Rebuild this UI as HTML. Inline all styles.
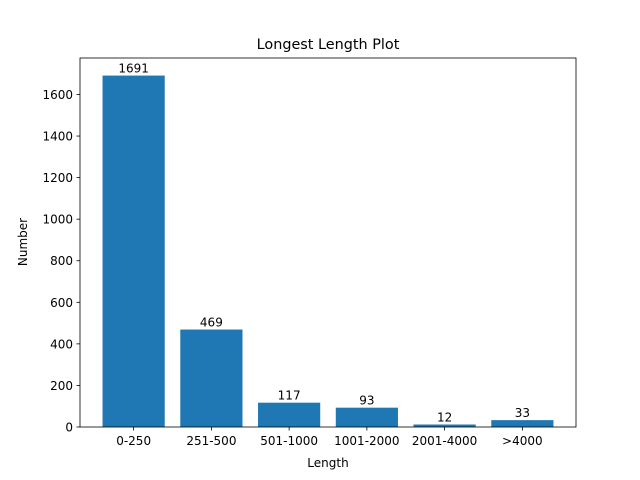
<!DOCTYPE html>
<html><head><meta charset="utf-8"><style>
html,body{margin:0;padding:0;background:#fff;}
svg{display:block;font-family:"DejaVu Sans","Liberation Sans",sans-serif;}
</style></head><body>
<svg id="chart" width="640" height="480">
<rect width="640" height="480" fill="#fff"/>
<text x="328" y="49" text-anchor="middle" font-size="14.4">Longest Length Plot</text>
<g id="bars"></g>
<g id="xticks"></g>
<g id="yticks"></g>
<rect x="80" y="58" width="496" height="369" fill="none" stroke="#000" stroke-width="0.8"/>
<text x="328" y="467" text-anchor="middle" font-size="12">Length</text>
<text transform="translate(27,242) rotate(-90)" text-anchor="middle" font-size="12">Number</text>
</svg>
<script>
const categories = ["0-250","251-500","501-1000","1001-2000","2001-4000",">4000"];
const values = [1691,469,117,93,12,33];
const yTicks = [0,200,400,600,800,1000,1200,1400,1600];

const NS="http://www.w3.org/2000/svg";
const L=80,R=576,T=58,B=427;
const yMax=Math.max(...values)*1.05;
const xMin=-0.69,xMax=categories.length-1+0.69;
function sx(v){return L+(v-xMin)/(xMax-xMin)*(R-L);}
function sy(v){return B-v/yMax*(B-T);}
function mk(tag,attrs,parent){const e=document.createElementNS(NS,tag);for(const k in attrs)e.setAttribute(k,attrs[k]);parent.appendChild(e);return e;}
const bars=document.getElementById('bars'),xt=document.getElementById('xticks'),yt=document.getElementById('yticks');
categories.forEach((c,i)=>{
  const x0=sx(i-0.4),x1=sx(i+0.4),y=sy(values[i]);
  const r=mk('rect',{x:x0,y:y,width:x1-x0,height:B-y,fill:'#1f77b4'},bars);
  
  
  const t=mk('text',{x:sx(i),y:y-3,'text-anchor':'middle','font-size':'12'},bars);
  t.textContent=values[i];
  
  
  const tk=mk('line',{x1:sx(i),x2:sx(i),y1:B,y2:B+3.5,stroke:'#000','stroke-width':0.8},xt);
  
  
  const tl=mk('text',{x:sx(i),y:B+18,'text-anchor':'middle','font-size':'12'},xt);
  tl.textContent=c;
  
  
});
yTicks.forEach(v=>{
  const y=sy(v);
  const tk=mk('line',{x1:L-3.5,x2:L,y1:y,y2:y,stroke:'#000','stroke-width':0.8},yt);
  
  
  const tl=mk('text',{x:L-7,y:y+4.5,'text-anchor':'end','font-size':'12'},yt);
  tl.textContent=v;
  
  
});
</script>
</body></html>
